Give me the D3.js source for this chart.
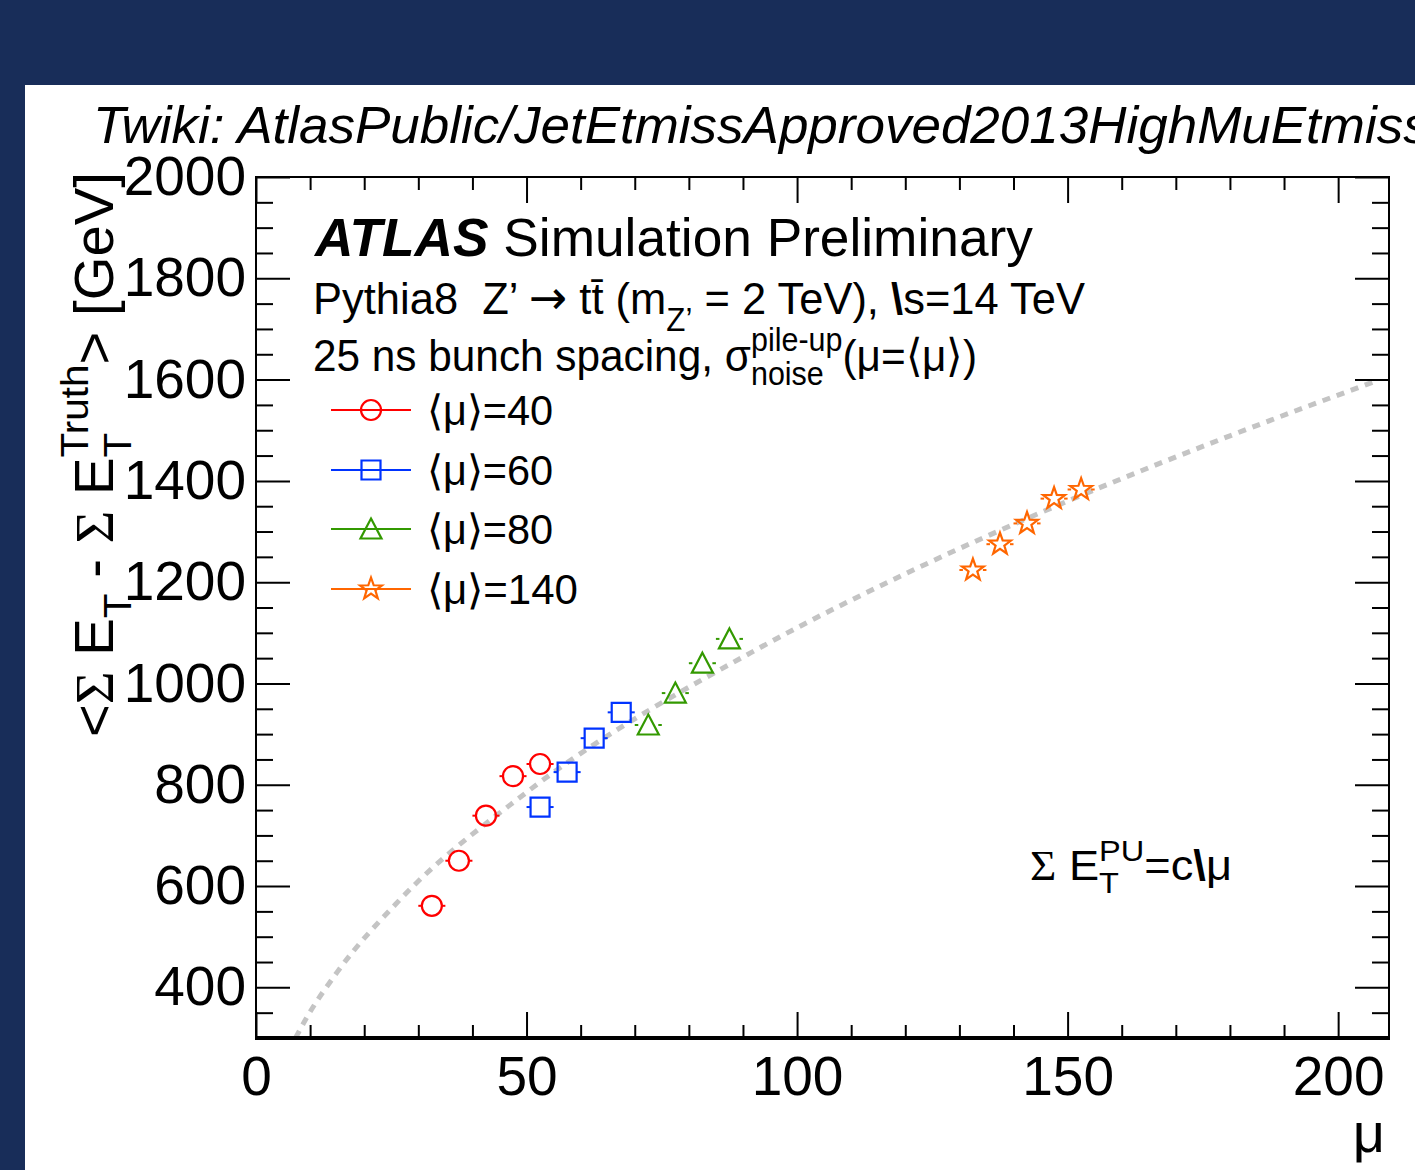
<!DOCTYPE html>
<html>
<head>
<meta charset="utf-8">
<script src="https://cdn.jsdelivr.net/npm/d3@7"></script>
<style>
  body { margin: 0; background: #182d59; }
  svg { display: block; }
  text { font-family: "Liberation Sans", Arial, Helvetica, sans-serif; fill: #000; white-space: pre; }
</style>
</head>
<body>
<svg id="chart" width="1415" height="1170"></svg>
<script>
// values
const mu40 = [32.5, 37.5, 42.5, 47.5, 52.5];
const val40 = [561, 650, 739, 817, 841];
const mu60 = [52.5, 57.5, 62.5, 67.5];
const val60 = [756, 825, 892, 943];
const mu80 = [72.5, 77.5, 82.5, 87.5];
const val80 = [918, 981, 1040, 1088];
const mu140 = [132.5, 137.5, 142.5, 147.5, 152.5];
const val140 = [1224, 1275, 1316, 1365, 1383];
const muErr = 2.5;

// dashed sqrt fit
const fitMu = [7.3, 9.3, 15, 26.5, 50, 93.2, 120.9, 150, 180, 207.5];
const fitVal = [300, 339, 430, 572, 785, 1071, 1221, 1360, 1489, 1599];

const xMajor = [0, 50, 100, 150, 200];
const yMajor = [400, 600, 800, 1000, 1200, 1400, 1600, 1800, 2000];
const legendLabels = ["⟨μ⟩=40", "⟨μ⟩=60", "⟨μ⟩=80", "⟨μ⟩=140"];

const svg = d3.select("#chart");

// slide background + white plot panel
svg.append("rect").attr("width", 1415).attr("height", 1170).attr("fill", "#182d59");
svg.append("rect").attr("x", 25).attr("y", 85).attr("width", 1390).attr("height", 1085).attr("fill", "#fff");

const frame = { left: 256, right: 1389, top: 177, bottom: 1038 };
const x = d3.scaleLinear().domain([0, 209.4]).range([frame.left, frame.right]);
const y = d3.scaleLinear().domain([300, 2000]).range([frame.bottom, frame.top]);

// text with sub/superscripts, laid out piece by piece
function rich(parent, x0, y0, parts, fs, opts = {}) {
  const g = parent.append("g");
  let cx = 0, stackX = 0;
  parts.forEach(p => {
    const small = p.sub || p.sup;
    const size = (small ? fs * 0.72 : fs) * (p.fs || 1);
    const t = g.append("text")
      .attr("x", p.stack ? stackX : cx)
      .attr("y", p.sub ? fs * (opts.subOff || 0.32) : p.sup ? -fs * 0.45 : 0)
      .style("font-size", size + "px")
      .text(p.t);
    if (p.style) t.style("font-style", p.style);
    if (p.weight) t.style("font-weight", p.weight);
    if (p.family) t.style("font-family", p.family);
    const w = t.node().getComputedTextLength();
    if (p.stack) cx = Math.max(cx, stackX + w);
    else { stackX = cx; cx += w; }
  });
  const sx = opts.width ? opts.width / cx : 1;
  g.attr("transform", `translate(${x0},${y0})` + (opts.rotate ? ` rotate(${opts.rotate})` : "") + ` scale(${sx},1)`);
  return g;
}

// header above the frame
rich(svg, 93, 143, [{ t: "Twiki: AtlasPublic/JetEtmissApproved2013HighMuEtmiss", style: "italic" }], 52, { width: 1337 });

// fit curve
svg.append("clipPath").attr("id", "frameClip")
  .append("rect").attr("x", frame.left).attr("y", frame.top)
  .attr("width", frame.right - frame.left).attr("height", frame.bottom - frame.top);

svg.append("path")
  .datum(fitMu.map((m, i) => [m, fitVal[i]]))
  .attr("clip-path", "url(#frameClip)")
  .attr("fill", "none")
  .attr("stroke", "#c4c4c4")
  .attr("stroke-width", 5)
  .attr("stroke-dasharray", "8,7")
  .attr("d", d3.line().x(d => x(d[0])).y(d => y(d[1])).curve(d3.curveMonotoneX));

// axes, ticks pointing inward
function tickAxis(axis, transform, values, size, labels) {
  const g = svg.append("g").attr("transform", transform)
    .call(axis.tickValues(values).tickSize(-size).tickFormat(labels ? d3.format("d") : ""));
  g.select(".domain").remove();
  g.selectAll("line").attr("stroke", "#000").attr("stroke-width", 2);
  g.selectAll("text").attr("fill", "#000").style("font-size", "55px")
    .style("font-family", "'Liberation Sans', Arial, sans-serif");
  return g;
}
const xMinor = d3.range(0, 210, 10).filter(v => v % 50 !== 0);
const yMinor = d3.range(300, 2001, 50).filter(v => v % 200 !== 0);

tickAxis(d3.axisBottom(x).tickPadding(18), `translate(0,${frame.bottom})`, xMajor, 26, true);
tickAxis(d3.axisBottom(x), `translate(0,${frame.bottom})`, xMinor, 13, false);
tickAxis(d3.axisTop(x), `translate(0,${frame.top})`, xMajor, 26, false);
tickAxis(d3.axisTop(x), `translate(0,${frame.top})`, xMinor, 13, false);
tickAxis(d3.axisLeft(y).tickPadding(10), `translate(${frame.left},0)`, yMajor, 34, true);
tickAxis(d3.axisLeft(y), `translate(${frame.left},0)`, yMinor, 17, false);
tickAxis(d3.axisRight(y), `translate(${frame.right},0)`, yMajor, 34, false);
tickAxis(d3.axisRight(y), `translate(${frame.right},0)`, yMinor, 17, false);

// frame
svg.append("rect").attr("x", frame.left).attr("y", frame.top)
  .attr("width", frame.right - frame.left).attr("height", frame.bottom - frame.top)
  .attr("fill", "none").attr("stroke", "#000").attr("stroke-width", 2);
svg.append("line").attr("x1", frame.left - 1).attr("x2", frame.right + 1)
  .attr("y1", frame.bottom).attr("y2", frame.bottom)
  .attr("stroke", "#000").attr("stroke-width", 4);

// markers
function starPath(ro, ri) {
  const pts = d3.range(10).map(k => {
    const a = -Math.PI / 2 + k * Math.PI / 5, r = k % 2 ? ri : ro;
    return [r * Math.cos(a), r * Math.sin(a)];
  });
  return "M" + pts.join("L") + "Z";
}
const shapes = {
  circle: d3.symbol(d3.symbolCircle, Math.PI * 100)(),
  square: d3.symbol(d3.symbolSquare, 19 * 19)(),
  triangle: "M0,-10.5L10.5,9.5L-10.5,9.5Z",
  star: starPath(11.5, 4.6)
};

const series = [
  { mu: mu40, val: val40, color: "#ff0000", shape: "circle", gap: 10 },
  { mu: mu60, val: val60, color: "#0033ff", shape: "square", gap: 9.5 },
  { mu: mu80, val: val80, color: "#339900", shape: "triangle", gap: 10 },
  { mu: mu140, val: val140, color: "#ff6600", shape: "star", gap: 10 }
];

series.forEach(s => {
  const pts = s.mu.map((m, i) => ({ m, v: s.val[i] }));
  const g = svg.append("g");
  // horizontal error bars, not drawn through the marker
  g.selectAll(".errL").data(pts).enter().append("line")
    .attr("x1", d => x(d.m - muErr)).attr("x2", d => x(d.m) - s.gap)
    .attr("y1", d => y(d.v)).attr("y2", d => y(d.v))
    .attr("stroke", s.color).attr("stroke-width", 2);
  g.selectAll(".errR").data(pts).enter().append("line")
    .attr("x1", d => x(d.m) + s.gap).attr("x2", d => x(d.m + muErr))
    .attr("y1", d => y(d.v)).attr("y2", d => y(d.v))
    .attr("stroke", s.color).attr("stroke-width", 2);
  g.selectAll("path").data(pts).enter().append("path")
    .attr("transform", d => `translate(${x(d.m)},${y(d.v)})`)
    .attr("d", shapes[s.shape])
    .attr("fill", "none").attr("stroke", s.color).attr("stroke-width", 2.2);
});

// text block
rich(svg, 315, 256, [{ t: "ATLAS", weight: "bold", style: "italic" }, { t: " Simulation Preliminary" }], 54, { width: 718 });
rich(svg, 313, 314, [
  { t: "Pythia8  Z’ " }, { t: "→", family: "'DejaVu Sans'", fs: 1.05 }, { t: " tt\u0304 (m" },
  { t: "Z’", sub: true }, { t: " = 2 TeV), " },
  { t: "\\", weight: "bold" }, { t: "s=14 TeV" }
], 45, { width: 772, subOff: 0.38 });
rich(svg, 313, 371, [
  { t: "25 ns bunch spacing, σ" }, { t: "pile-up", sup: true }, { t: "noise", sub: true, stack: true },
  { t: "(μ=⟨μ⟩)" }
], 45, { width: 665 });

// legend
const legendRows = [410, 470, 529, 589];
const legendWidths = [126, 126, 126, 151];
series.forEach((s, i) => {
  const ly = legendRows[i];
  svg.append("line").attr("x1", 331).attr("x2", 411).attr("y1", ly).attr("y2", ly)
    .attr("stroke", s.color).attr("stroke-width", 2);
  svg.append("path").attr("transform", `translate(371,${ly})`).attr("d", shapes[s.shape])
    .attr("fill", "none").attr("stroke", s.color).attr("stroke-width", 2.2);
  rich(svg, 427, ly + 15, [{ t: legendLabels[i] }], 42, { width: legendWidths[i] });
});

// fit label
rich(svg, 1030, 880, [
  { t: "Σ", family: "'Liberation Serif'" }, { t: " E" }, { t: "T", sub: true }, { t: "PU", sup: true, stack: true },
  { t: "=c" }, { t: "\\", weight: "bold" }, { t: "μ" }
], 42, { width: 202 });

// axis titles
rich(svg, 113, 737, [
  { t: "<" }, { t: "Σ", family: "'Liberation Serif'" }, { t: " E" }, { t: "T", sub: true },
  { t: " - " }, { t: "Σ", family: "'Liberation Serif'" }, { t: " E" }, { t: "T", sub: true },
  { t: "Truth", sup: true, stack: true }, { t: "> [GeV]" }
], 55, { width: 565, rotate: -90 });

svg.append("text").attr("x", frame.right - 4).attr("y", 1152)
  .attr("text-anchor", "end").style("font-size", "56px").text("μ");
</script>
</body>
</html>
